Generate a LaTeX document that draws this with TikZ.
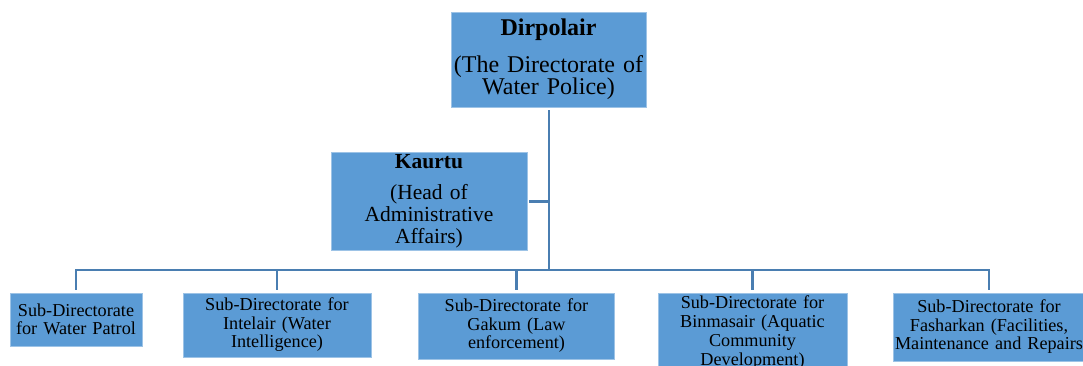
\documentclass[tikz,border=0pt]{standalone}
\usepackage{fontspec}
\setmainfont{Liberation Serif}
\usepackage{xcolor}
\usetikzlibrary{calc}

\definecolor{boxblue}{HTML}{5B9BD5}
\definecolor{linkblue}{HTML}{4A7EB1}

\begin{document}
\begin{tikzpicture}[x=1pt,y=-1pt,
  box/.style={fill=boxblue,draw=boxblue!60!white,line width=0.6pt,align=center,inner sep=2pt},
  headbox/.style={box,font=\fontsize{24}{22.5}\selectfont},
  midbox/.style={box,font=\fontsize{21.5}{22}\selectfont},
  subbox/.style={box,font=\fontsize{18.2}{18.5}\selectfont},
  link/.style={draw=linkblue,line width=2.4pt}]
  \useasboundingbox (0,0) rectangle (1083,365);
  % ---- top of the chart ----
  \node[headbox,text width=191pt,minimum height=95pt] (dirpol) at (548.5,59.5)
    {\textbf{Dirpolair}\\[14pt] (The Directorate of\\ Water Police)};
  \node[midbox,text width=192pt,minimum height=96pt] (kaurtu) at (429,201.5)
    {\textbf{Kaurtu}\\[9pt] (Head of\\ Administrative\\ Affairs)};
  % ---- sub-directorates ----
  \node[subbox,text width=128pt,minimum height=53pt] (patrol) at (76,319.5)
    {Sub-Directorate\\ for Water Patrol};
  \node[subbox,text width=184pt,minimum height=64pt] (intel) at (277,325)
    {Sub-Directorate for\\ Intelair (Water\\ Intelligence)};
  \node[subbox,text width=192pt,minimum height=66pt] (gakum) at (516.5,326)
    {Sub-Directorate for\\ Gakum (Law\\ enforcement)};
  \node[subbox,text width=185pt,minimum height=70pt,anchor=north,
        font=\fontsize{18.2}{19}\selectfont] (binmas) at (752.5,293)
    {Sub-Directorate for\\ Binmasair (Aquatic\\ Community\\ Development)};
  \node[subbox,text width=188pt,minimum height=68pt] (fashar) at (989,327)
    {Sub-Directorate for\\ Fasharkan (Facilities,\\ \mbox{Maintenance and Repairs)}};
  % ---- connectors ----
  \coordinate (hub) at (549,270);
  \draw[link,line cap=rect] (dirpol.south -| hub) ++(0,4) -- (hub);
  \draw[link] ($(kaurtu.east)+(2,0)$) -- (kaurtu.east -| hub);
  \draw[link,line cap=rect] (patrol |- hub) -- (fashar |- hub);
  \foreach \sub in {patrol,intel,gakum,binmas,fashar}
    \draw[link] (\sub |- hub) -- ($(\sub.north)+(0,-3)$);
\end{tikzpicture}
\end{document}
